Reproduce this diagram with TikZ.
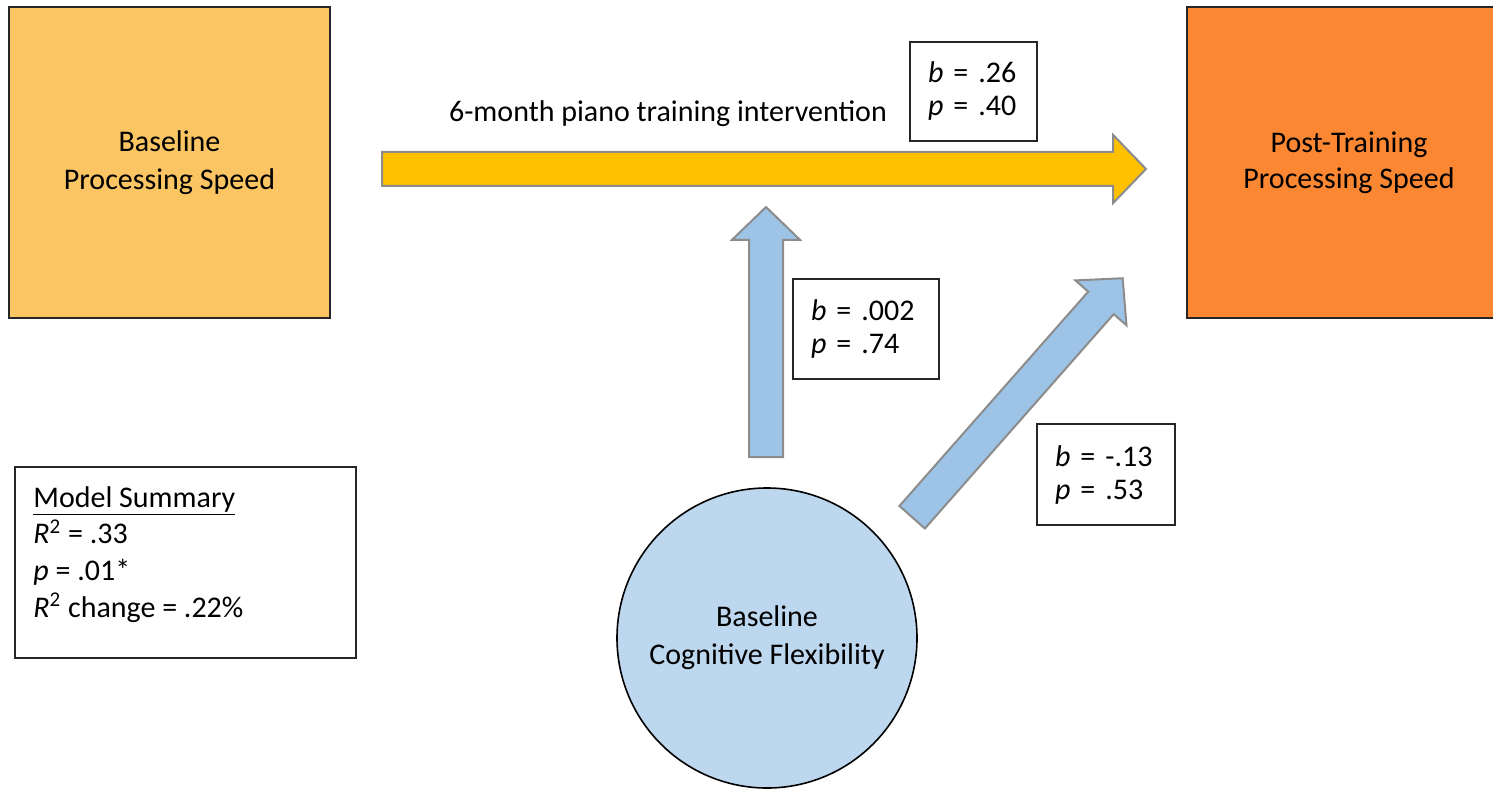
\documentclass[tikz,border=0pt]{standalone}
\usepackage{fontspec}
\setmainfont{Carlito}
\usetikzlibrary{shapes.arrows,calc}

\definecolor{baseOrange}{HTML}{FBC563}
\definecolor{postOrange}{HTML}{FB8733}
\definecolor{pianoGold}{HTML}{FFC000}
\definecolor{flexBlue}{HTML}{BDD7EE}
\definecolor{pathBlue}{HTML}{9DC3E6}
\definecolor{outlineGray}{HTML}{8C8C8C}

\tikzstyle{varBox}=[draw=black!85,line width=1pt,align=center,minimum height=155.5pt,font=\fontsize{15}{19}\selectfont]
\tikzstyle{statBox}=[draw=black!85,line width=0.6pt,align=left,inner xsep=9pt,fill=white,font=\fontsize{15}{16.5}\selectfont]
\tikzstyle{blockArrow}=[single arrow,draw=outlineGray,line width=1pt,inner xsep=0pt,inner ysep=8pt,single arrow head extend=8.5pt,single arrow tip angle=92,pos=0,anchor=tail,sloped,allow upside down]

\begin{document}
\begin{tikzpicture}[x=0.5pt,y=-0.5pt]

    \useasboundingbox (0,0) rectangle (1493,791);
    \clip (0,0) rectangle (1493,791);

    \node[varBox,fill=baseOrange,minimum width=160.5pt] (baseSpeed) at (169.5,162.5) {Baseline\\Processing Speed};
    \node[varBox,fill=postOrange,minimum width=162pt,font=\fontsize{15}{18}\selectfont] (postSpeed) at (1349,162.5) {Post-Training\\Processing Speed};
    \node[draw=black,line width=0.8pt,circle,fill=flexBlue,minimum size=150pt,align=center,font=\fontsize{15}{19}\selectfont] (cogFlex) at (767,638) {Baseline\\Cognitive Flexibility};

    \node[font=\fontsize{15}{19}\selectfont] (pianoLabel) at (668,114) {6-month piano training intervention};

    \coordinate (pianoTail) at (381,169);
    \coordinate (pianoTip) at (1145,169);
    \coordinate (interTail) at (766,458);
    \coordinate (interTip) at (766,208);
    \coordinate (flexTail) at (911.5,518);
    \coordinate (flexTip) at (1122,279);

    \path let \p1=($(pianoTip)-(pianoTail)$), \n1={veclen(\x1,\y1)} in
        (pianoTail) -- (pianoTip) node[blockArrow,fill=pianoGold,minimum height=\n1] (pianoArrow) {};
    \path let \p1=($(interTip)-(interTail)$), \n1={veclen(\x1,\y1)} in
        (interTail) -- (interTip) node[blockArrow,fill=pathBlue,minimum height=\n1] (interArrow) {};
    \path let \p1=($(flexTip)-(flexTail)$), \n1={veclen(\x1,\y1)} in
        (flexTail) -- (flexTip) node[blockArrow,fill=pathBlue,minimum height=\n1] (flexArrow) {};

    \node[statBox,text width=45.5pt,minimum height=49.5pt] (pianoStats) at (973.5,91.5) {\textit{b} = .26\\\textit{p} = .40};
    \node[statBox,text width=55pt,minimum height=50pt] (interStats) at (866,329) {\textit{b} = .002\\\textit{p} = .74};
    \node[statBox,text width=51pt,minimum height=50.5pt] (flexStats) at (1106,474.5) {\textit{b} = -.13\\\textit{p} = .53};

    % model summary panel
    \node[draw=black!85,line width=0.6pt,minimum width=170.5pt,minimum height=95.5pt] (summaryBox) at (185.5,562.5) {};
    \node[anchor=north west,inner sep=0pt,align=left,font=\fontsize{15}{18.3}\selectfont] (summaryText) at (33,486)
        {\underline{Model Summary}\\\textit{R}\textsuperscript{2} = .33\\\textit{p} = .01*\\\textit{R}\textsuperscript{2} change = .22\%};

\end{tikzpicture}
\end{document}
